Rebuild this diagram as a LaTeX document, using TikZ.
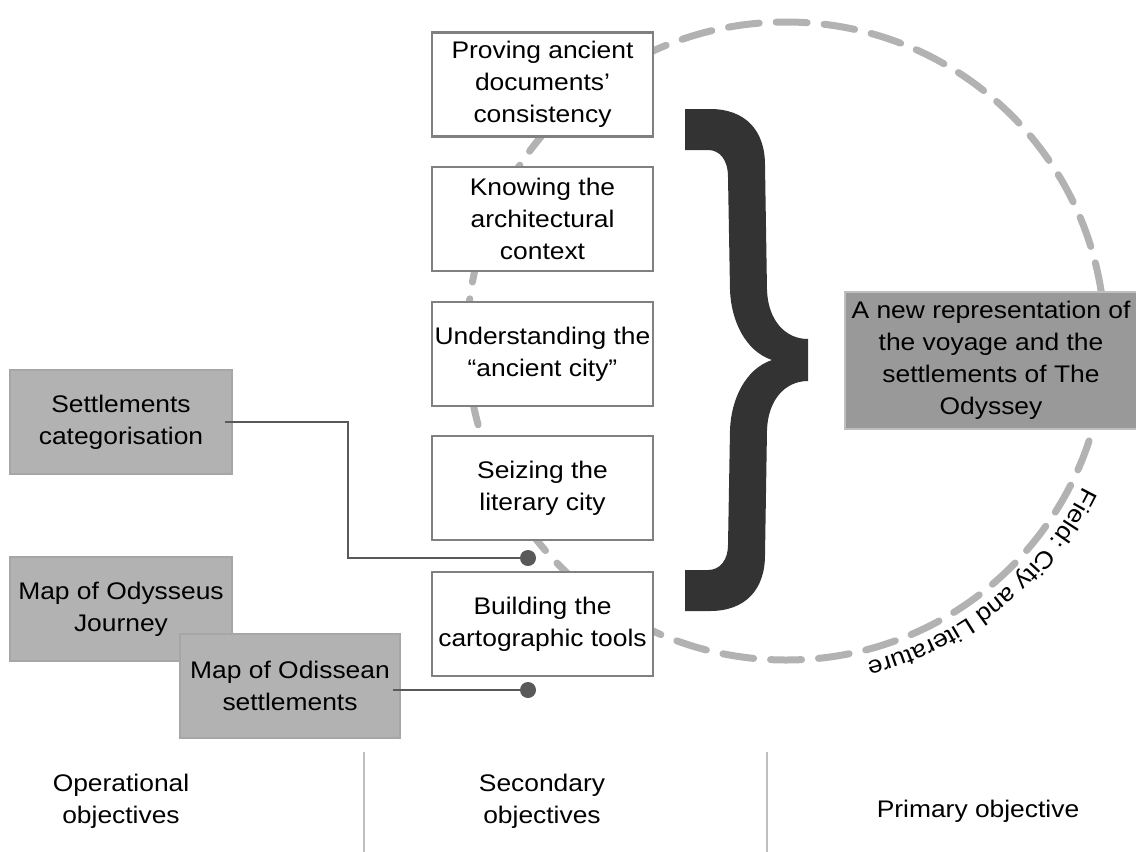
\documentclass[tikz,border=0pt]{standalone}
\usepackage{fontspec}
\setmainfont{Liberation Sans}[FakeStretch=1.1]
\usetikzlibrary{decorations.text}

\begin{document}
\begin{tikzpicture}[x=0.5pt,y=0.5pt,
  every node/.style={font=\fontsize{12}{16}\selectfont,align=center,inner sep=0pt},
  secbox/.style={draw=black!50,line width=1.2pt,fill=white,minimum width=110.5pt,minimum height=52pt},
  opbox/.style={draw=black!35,line width=0.6pt,fill=black!30,minimum width=111pt,minimum height=52pt},
  primbox/.style={draw=black!25,line width=0.6pt,fill=black!40,minimum width=146pt,minimum height=68.5pt},
  link/.style={draw=black!65,line width=1pt},
  pin/.style={fill=black!65}]
\useasboundingbox (0,0) rectangle (1136,-852);
%\draw[very thin,color=gray,step=50] (0,0) grid (1136,-852);
\draw[black!30,line width=3.5pt,line cap=round,dash pattern=on 15.5pt off 8.5pt] (786,-341) circle[radius=319];
\fill[black!80] (685,-109) -- (710,-109) .. controls (745,-109) and (765,-130) .. (765,-165)
  -- (767,-290) .. controls (768,-320) and (785,-339) .. (808,-339)
  -- (808,-381) .. controls (785,-381) and (768,-400) .. (767,-430)
  -- (765,-555) .. controls (765,-590) and (745,-611) .. (710,-611)
  -- (685,-611) -- (685,-570) -- (708,-570) .. controls (720,-570) and (728,-560) .. (728,-545)
  -- (730,-430) .. controls (731,-400) and (745,-369) .. (772,-360)
  .. controls (745,-351) and (731,-320) .. (730,-290)
  -- (728,-177) .. controls (728,-160) and (720,-150) .. (708,-150)
  -- (685,-150) -- cycle;
\node[secbox] (prove) at (542.5,-84.5) {Proving ancient\\documents’\\consistency};
\node[secbox] (know) at (542.5,-219) {Knowing the\\architectural\\context};
\node[secbox] (underst) at (542.5,-354) {Understanding the\\“ancient city”};
\node[secbox] (seize) at (542.5,-488) {Seizing the\\literary city};
\node[secbox] (build) at (542.5,-624) {Building the\\cartographic tools};
\node[primbox] (prim) at (991,-360.5) {A new representation of\\the voyage and the\\settlements of The\\Odyssey};
\node[opbox] (settle) at (121,-422) {Settlements\\categorisation};
\node[opbox] (journey) at (121,-609) {Map of Odysseus\\Journey};
\node[opbox,minimum width=110pt] (odis) at (290,-686) {Map of Odissean\\settlements};
\coordinate (d1) at (528,-558);
\coordinate (d2) at (528,-690);
\coordinate (e1) at ([xshift=-4pt]settle.east);
\coordinate (e2) at ([xshift=-4pt]odis.east);
\draw[link] (e1) -- ++(123,0) |- (d1);
\draw[link] (d2 -| e2) -- (d2);
\fill[pin] (d1) circle[radius=8];
\fill[pin] (d2) circle[radius=8];
\path[decorate,decoration={text along path,text align=center,
  text={|\fontsize{12}{16}\selectfont|Field: City and Literature}}]
  (786,-341) ++(-10:331) arc[start angle=-10,end angle=-92,radius=331];
\draw[black!25,line width=1pt] (364,-752) -- (364,-852);
\draw[black!25,line width=1pt] (767,-752) -- (767,-852);
\node (oplab) at (121,-801) {Operational\\objectives};
\node (seclab) at (542,-801) {Secondary\\objectives};
\node (primlab) at (978,-811) {Primary objective};
\end{tikzpicture}
\end{document}
